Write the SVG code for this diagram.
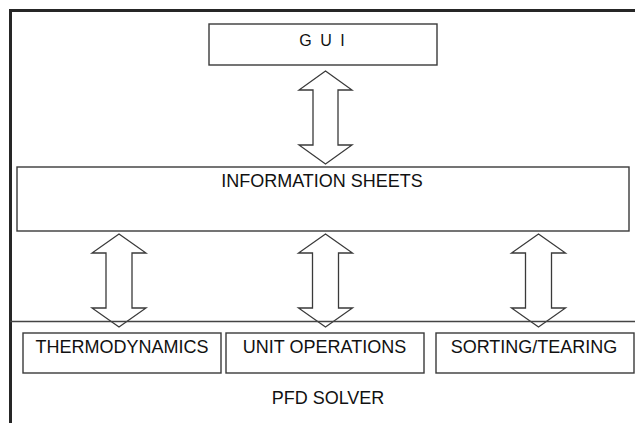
<svg xmlns="http://www.w3.org/2000/svg" width="635" height="423" viewBox="0 0 635 423">
  <defs>
    <style>
      .box { fill: #ffffff; stroke: #3a3a3a; stroke-width: 1.4; }
      .label { font-family: "Liberation Sans", Arial, sans-serif; font-size: 18px; fill: #111111; text-anchor: middle; }
      .arrow { fill: #ffffff; stroke: #3a3a3a; stroke-width: 1.3; stroke-linejoin: miter; }
    </style>
    <!-- double-headed block arrow, centred on x=0; tip-to-tip length set per use -->
  </defs>

  <rect x="0" y="0" width="635" height="423" fill="#ffffff"/>

  <!-- outer solver frame -->
  <g id="pfd-solver">
    <path d="M10.5,423 V10.5 H635" fill="none" stroke="#262626" stroke-width="3"/>
    <text class="label" x="328" y="404">PFD SOLVER</text>
  </g>

  <g id="gui">
    <rect class="box" x="209" y="24" width="228" height="41"/>
    <text class="label" x="323" y="46" style="font-size:16px; letter-spacing:2px">G U I</text>
  </g>

  <g id="information-sheets">
    <rect class="box" x="17" y="167" width="612" height="64"/>
    <text class="label" x="322" y="187">INFORMATION SHEETS</text>
  </g>

  <g id="connectors">
    <!-- GUI <-> information sheets -->
    <path class="arrow" d="M325.5,71 L352,90 L338,90 L338,145 L352,145 L325.5,164 L299,145 L313,145 L313,90 L299,90 Z"/>
    <!-- information sheets <-> solver modules -->
    <path class="arrow" d="M119,234 L146,253 L132,253 L132,308 L146,308 L119,327 L92,308 L106,308 L106,253 L92,253 Z"/>
    <path class="arrow" d="M325.5,234 L352.5,253 L338.5,253 L338.5,308 L352.5,308 L325.5,327 L298.5,308 L312.5,308 L312.5,253 L298.5,253 Z"/>
    <path class="arrow" d="M538.5,234 L565.5,253 L551.5,253 L551.5,308 L565.5,308 L538.5,327 L511.5,308 L525.5,308 L525.5,253 L511.5,253 Z"/>
  </g>

  <!-- boundary of the solver layer -->
  <line x1="10" y1="321.5" x2="635" y2="321.5" stroke="#444444" stroke-width="1.3"/>

  <g id="thermodynamics">
    <rect class="box" x="23" y="333" width="198" height="40"/>
    <text class="label" x="122" y="353">THERMODYNAMICS</text>
  </g>

  <g id="unit-operations">
    <rect class="box" x="226" y="333" width="198" height="40"/>
    <text class="label" x="324.5" y="353">UNIT OPERATIONS</text>
  </g>

  <g id="sorting-tearing">
    <rect class="box" x="436" y="333" width="198" height="40"/>
    <text class="label" x="534" y="353">SORTING/TEARING</text>
  </g>
</svg>
